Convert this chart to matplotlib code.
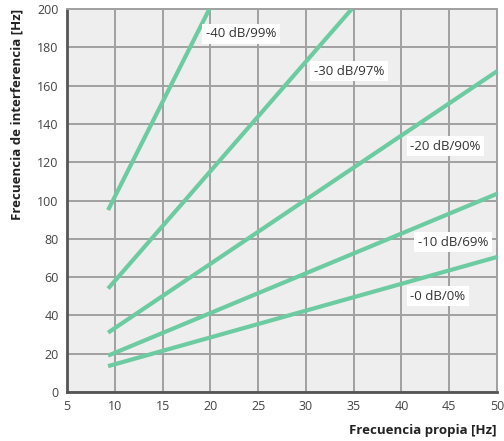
import matplotlib.pyplot as plt

plt.rcParams['font.family'] = ['Open Sans', 'DejaVu Sans']

# curve endpoints
labels = ['-40 dB/99%', '-30 dB/97%', '-20 dB/90%', '-10 dB/69%', '-0 dB/0%']
x_vals = [[9.3, 19.9], [9.3, 34.8], [9.3, 50], [9.3, 50], [9.3, 50]]
y_vals = [[95, 200], [54, 200], [31, 167.5], [19, 103.5], [13.5, 70.5]]
label_pos = [(23.2, 187), (34.5, 167.5), (44.6, 128.3), (45.4, 78.2), (43.8, 50)]

xticks = [5, 10, 15, 20, 25, 30, 35, 40, 45, 50]
yticks = [0, 20, 40, 60, 80, 100, 120, 140, 160, 180, 200]

green = '#6ccba0'

fig = plt.figure(figsize=(5.04, 4.41), dpi=100)
ax = fig.add_axes([67/504, 49/441, 430/504, 383/441])
ax.set_facecolor('#eeeeee')

for xs, ys in zip(x_vals, y_vals):
    ax.plot(xs, ys, color=green, linewidth=3, solid_capstyle='butt', zorder=3)

for lab, (lx, ly) in zip(labels, label_pos):
    ax.text(lx, ly, lab, ha='center', va='center', fontsize=9.5, color='#333333',
            bbox=dict(facecolor='white', edgecolor='none', pad=2.5), zorder=4)

ax.set_xlim(5, 50)
ax.set_ylim(0, 200)
ax.set_xticks(xticks)
ax.set_yticks(yticks)
ax.grid(True, color='#a0a0a0', linewidth=1.4)
ax.set_axisbelow(True)
ax.tick_params(length=0, labelsize=9, colors='#444444', pad=6)

for s in ['top', 'right']:
    ax.spines[s].set_color('#a0a0a0')
    ax.spines[s].set_linewidth(1.4)
for s in ['left', 'bottom']:
    ax.spines[s].set_color('#555555')
    ax.spines[s].set_linewidth(2)

ax.set_ylabel('Frecuencia de interferencia [Hz]', fontsize=9.5, fontweight='bold',
              color='#222222', labelpad=10, loc='top')
ax.set_xlabel('Frecuencia propia [Hz]', fontsize=9.5, fontweight='bold',
              color='#222222', loc='right', labelpad=8)

plt.savefig('out.png', dpi=100)
